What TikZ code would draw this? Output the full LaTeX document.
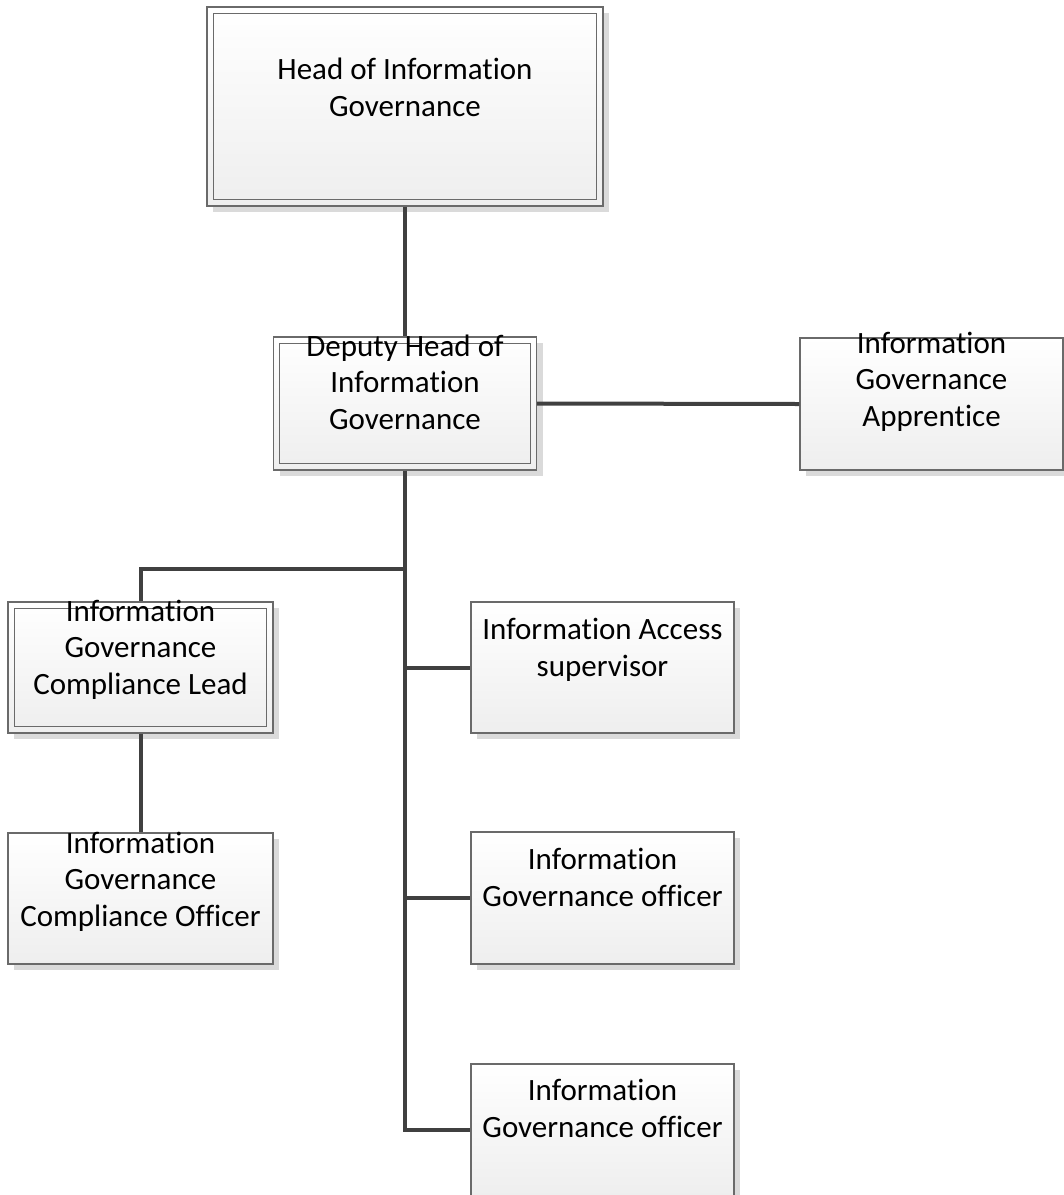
\documentclass[tikz,border=0pt]{standalone}
\usepackage{fontspec}
\setmainfont{Carlito}[Ligatures=NoCommon]
\usetikzlibrary{shadows}

\definecolor{boxline}{HTML}{6A6A6A}
\definecolor{boxbot}{HTML}{EEEEEE}
\definecolor{shadowgray}{HTML}{DADADA}
\definecolor{linkgray}{HTML}{404040}

\begin{document}
\begin{tikzpicture}[x=1pt, y=-1pt]
    \tikzset{
        box/.style={draw=boxline, line width=1.3pt, top color=white, bottom color=boxbot,
            minimum width=263pt, minimum height=131pt, inner sep=0pt,
            drop shadow={shadow xshift=6pt, shadow yshift=-6pt, fill=shadowgray, opacity=1}},
        innerframe/.style={draw=boxline, line width=0.9pt},
        boxtext/.style={font=\fontsize{31}{36.5}\selectfont, align=center, inner sep=0pt, anchor=base},
        link/.style={draw=linkgray, line width=4pt}
    }

    % 1. 画布大小
    \useasboundingbox (0,0) rectangle (1064,1195);

    % 2. 方框
    \node[box, minimum width=396pt, minimum height=199pt] (head) at (405,106.5) {};
    \node[box, minimum height=133pt] (deputy) at (405,403.5) {};
    \node[box, minimum height=132pt] (apprentice) at (931.5,404) {};
    \node[box, minimum width=265pt] (lead) at (140.5,667.5) {};
    \node[box, minimum width=265pt] (complianceofficer) at (140.5,898.5) {};
    \node[box] (access) at (602.5,667.5) {};
    \node[box, minimum height=132pt] (officerA) at (602.5,898) {};
    \node[box, minimum height=132pt] (officerB) at (602.5,1130) {};

    % 双线边框
    \foreach \n in {head, deputy, lead}
        \draw[innerframe] ([shift={(7,7)}]\n.north west) rectangle ([shift={(-7,-7)}]\n.south east);

    % 3. 文字 (基线 = 最后一行)
    \node[boxtext] (headtext) at ([yshift=-110pt]head.north) {Head of Information\\Governance};
    \node[boxtext] (deputytext) at ([yshift=-93pt]deputy.north) {Deputy Head of\\Information\\Governance};
    \node[boxtext] (apprenticetext) at ([yshift=-89pt]apprentice.north) {Information\\Governance\\Apprentice};
    \node[boxtext] (leadtext) at ([yshift=-93pt]lead.north) {Information\\Governance\\Compliance Lead};
    \node[boxtext] (complianceofficertext) at ([yshift=-94pt]complianceofficer.north) {Information\\Governance\\Compliance Officer};
    \node[boxtext] (accesstext) at ([yshift=-75pt]access.north) {Information Access\\supervisor};
    \node[boxtext] (officerAtext) at ([yshift=-75pt]officerA.north) {Information\\Governance officer};
    \node[boxtext] (officerBtext) at ([yshift=-74pt]officerB.north) {Information\\Governance officer};

    % 4. 连线
    \coordinate (split) at (405,569);
    \draw[link] (head.south) -- (deputy.north);
    \draw[link] (deputy.east) -- (apprentice.west);
    \draw[link] (deputy.south) |- (officerB.west);
    \draw[link] (deputy.south |- access.west) -- (access.west);
    \draw[link] (deputy.south |- officerA.west) -- (officerA.west);
    \draw[link] (split) -| (lead.north);
    \draw[link] (lead.south) -- (complianceofficer.north);

\end{tikzpicture}
\end{document}
